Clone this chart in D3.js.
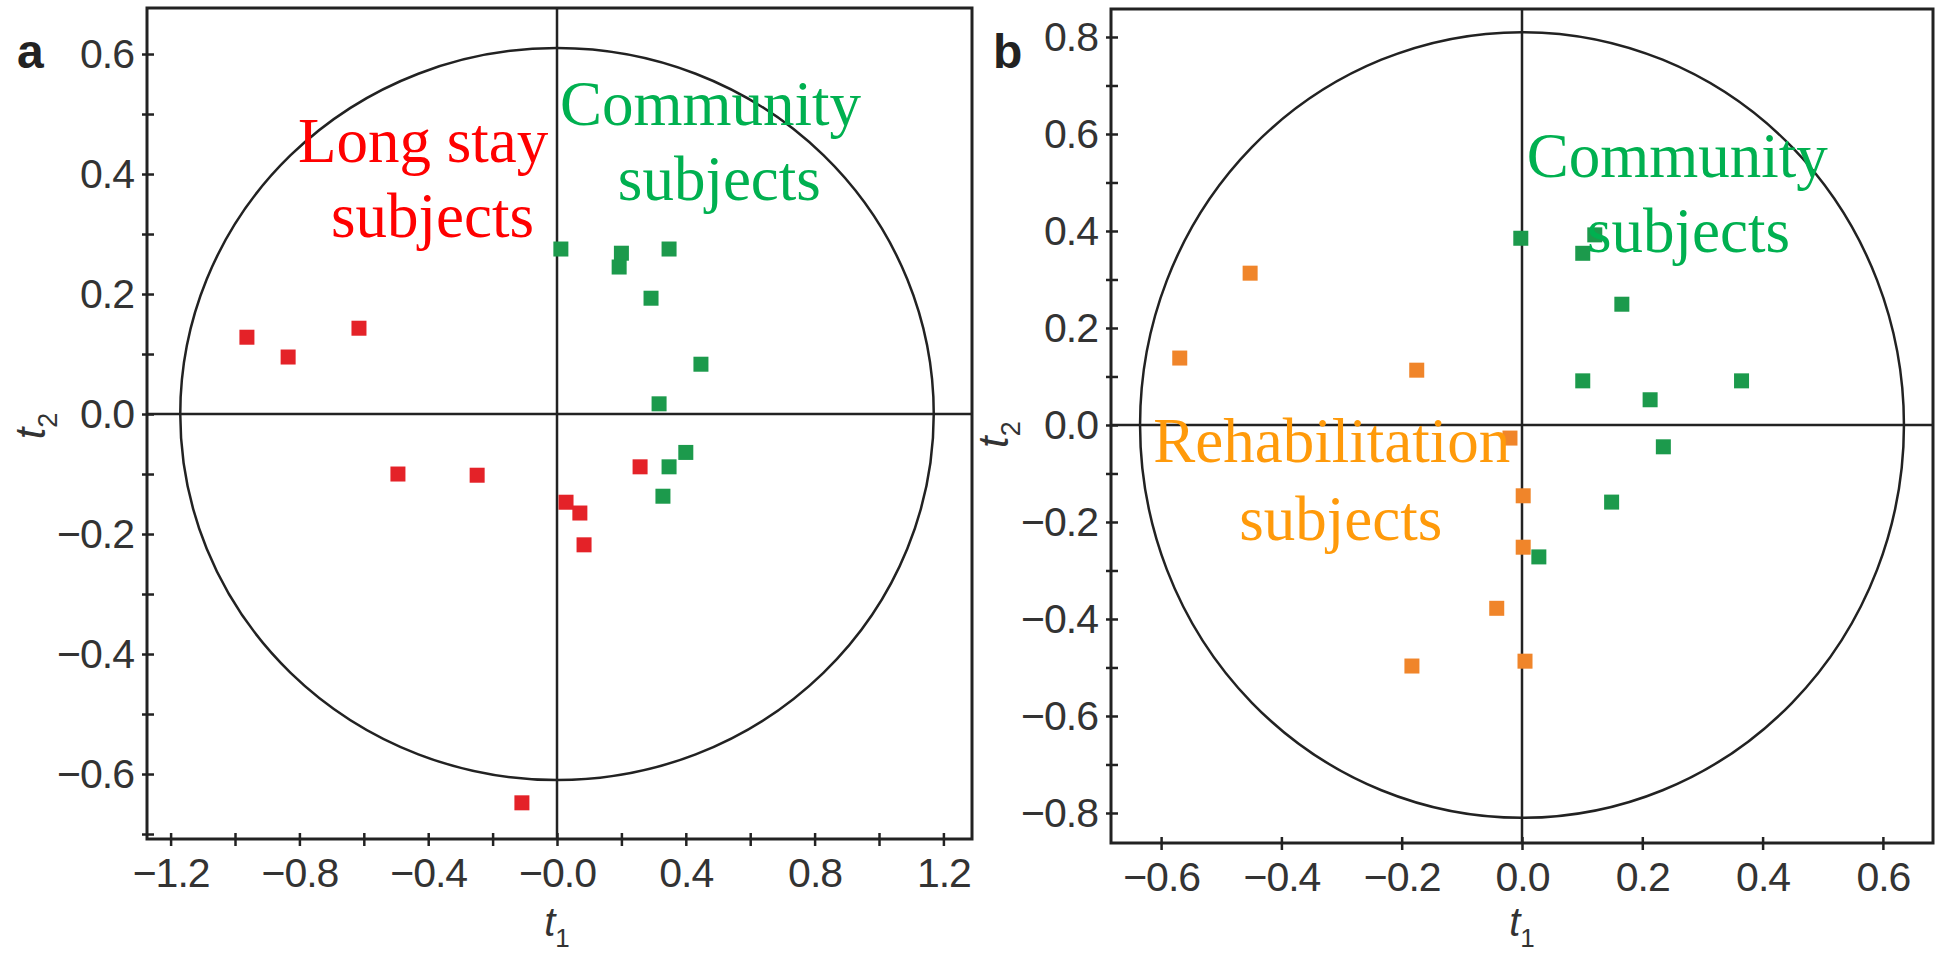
<!DOCTYPE html>
<html>
<head>
<meta charset="utf-8">
<script src="https://cdn.jsdelivr.net/npm/d3@7"></script>
<style>
  body { margin: 0; background: #fff; }
  .tickText { font-family: "Liberation Sans", Arial, sans-serif; font-size: 41px; fill: #333; letter-spacing: -1px; }
  .note { font-family: "Liberation Serif", "Times New Roman", serif; font-size: 63px; }
</style>
</head>
<body>
<script>
// panel a: long stay (red) vs community (green)
var aLongStayX = [-0.963, -0.835, -0.615, -0.494, -0.248, 0.028, 0.071, 0.084, -0.109, 0.258];
var aLongStayY = [0.128, 0.095, 0.143, -0.100, -0.102, -0.147, -0.165, -0.218, -0.648, -0.088];
var aCommunityX = [0.012, 0.200, 0.193, 0.348, 0.292, 0.447, 0.317, 0.400, 0.348, 0.329];
var aCommunityY = [0.275, 0.268, 0.245, 0.275, 0.193, 0.083, 0.017, -0.064, -0.088, -0.137];

// panel b: rehabilitation (orange) vs community (green)
var bRehabX = [-0.452, -0.569, -0.175, -0.183, -0.020, 0.002, 0.002, -0.042, 0.005];
var bRehabY = [0.313, 0.138, 0.113, -0.497, -0.027, -0.146, -0.252, -0.378, -0.487];
var bCommunityX = [-0.002, 0.101, 0.121, 0.166, 0.101, 0.365, 0.213, 0.235, 0.149, 0.028];
var bCommunityY = [0.385, 0.354, 0.392, 0.249, 0.091, 0.091, 0.052, -0.045, -0.159, -0.272];

// ticks
var aXTicks = [-1.2, -1.0, -0.8, -0.6, -0.4, -0.2, 0, 0.2, 0.4, 0.6, 0.8, 1.0, 1.2];
var aXLabelTicks = [-1.2, -0.8, -0.4, 0, 0.4, 0.8, 1.2];
var aXLabels = ["\u22121.2", "\u22120.8", "\u22120.4", "\u22120.0", "0.4", "0.8", "1.2"];
var aYTicks = [-0.7, -0.6, -0.5, -0.4, -0.3, -0.2, -0.1, 0, 0.1, 0.2, 0.3, 0.4, 0.5, 0.6];
var aYLabelTicks = [-0.6, -0.4, -0.2, 0, 0.2, 0.4, 0.6];
var aYLabels = ["\u22120.6", "\u22120.4", "\u22120.2", "0.0", "0.2", "0.4", "0.6"];

var bXTicks = [-0.6, -0.4, -0.2, 0, 0.2, 0.4, 0.6];
var bXLabelTicks = [-0.6, -0.4, -0.2, 0, 0.2, 0.4, 0.6];
var bXLabels = ["\u22120.6", "\u22120.4", "\u22120.2", "0.0", "0.2", "0.4", "0.6"];
var bYTicks = [-0.8, -0.7, -0.6, -0.5, -0.4, -0.3, -0.2, -0.1, 0, 0.1, 0.2, 0.3, 0.4, 0.5, 0.6, 0.7, 0.8];
var bYLabelTicks = [-0.8, -0.6, -0.4, -0.2, 0, 0.2, 0.4, 0.6, 0.8];
var bYLabels = ["\u22120.8", "\u22120.6", "\u22120.4", "\u22120.2", "0.0", "0.2", "0.4", "0.6", "0.8"];

// ellipse radii (data units) and group annotations
var aEllipse = [1.17, 0.61];
var bEllipse = [0.635, 0.81];
var aNotes = [
    {text: "Long stay", x: -0.804, y: 0.42, group: "red"},
    {text: "subjects", x: -0.702, y: 0.295, group: "red"},
    {text: "Community", x: 0.009, y: 0.482, group: "green"},
    {text: "subjects", x: 0.189, y: 0.357, group: "green"}
];
var bNotes = [
    {text: "Community", x: 0.008, y: 0.511, group: "green"},
    {text: "subjects", x: 0.108, y: 0.357, group: "green"},
    {text: "Rehabilitation", x: -0.613, y: -0.076, group: "orange"},
    {text: "subjects", x: -0.470, y: -0.237, group: "orange"}
];

var markColor = {red: "#e42228", green: "#1c9a4c", orange: "#f0852a"};
var noteColor = {red: "#ff0000", green: "#00b050", orange: "#ff9a0a"};

var svg = d3.select('body').append('svg')
    .attr('width', 1936)
    .attr('height', 954);

function labelFor(d, ticks, labels) {
    for (var i = 0; i < ticks.length; i++) {
        if (Math.abs(ticks[i] - d) < 1e-6) return labels[i];
    }
    return "";
}

function zip(xs, ys) {
    return xs.map(function (x, i) { return {x: x, y: ys[i]}; });
}

function drawPanel(p) {
    var x = d3.scaleLinear().domain(p.xDomain).range([p.left, p.right]);
    var y = d3.scaleLinear().domain(p.yDomain).range([p.bottom, p.top]);
    var g = svg.append('g');

    // frame
    g.append('rect')
        .attr('x', p.left).attr('y', p.top)
        .attr('width', p.right - p.left).attr('height', p.bottom - p.top)
        .attr('fill', 'none').attr('stroke', '#222').attr('stroke-width', 3);

    // zero lines
    g.append('line')
        .attr('x1', x(0)).attr('x2', x(0)).attr('y1', p.top).attr('y2', p.bottom)
        .attr('stroke', '#222').attr('stroke-width', 2.5);
    g.append('line')
        .attr('x1', p.left).attr('x2', p.right).attr('y1', y(0)).attr('y2', y(0))
        .attr('stroke', '#222').attr('stroke-width', 2.5);

    // confidence ellipse
    g.append('ellipse')
        .attr('cx', x(0)).attr('cy', y(0))
        .attr('rx', x(p.ellipse[0]) - x(0))
        .attr('ry', y(0) - y(p.ellipse[1]))
        .attr('fill', 'none').attr('stroke', '#222').attr('stroke-width', 2.5);

    var xAxis = d3.axisBottom(x)
        .tickValues(p.xTicks)
        .tickSizeInner(7).tickSizeOuter(0).tickPadding(12)
        .tickFormat(function (d) { return labelFor(d, p.xLabelTicks, p.xLabels); });
    var gx = g.append('g')
        .attr('transform', 'translate(0,' + p.bottom + ')')
        .call(xAxis);
    gx.selectAll('.tick line').attr('y1', -6).attr('stroke', '#222').attr('stroke-width', 2.5);

    var yAxis = d3.axisLeft(y)
        .tickValues(p.yTicks)
        .tickSizeInner(5).tickSizeOuter(0).tickPadding(8)
        .tickFormat(function (d) { return labelFor(d, p.yLabelTicks, p.yLabels); });
    var gy = g.append('g')
        .attr('transform', 'translate(' + p.left + ',0)')
        .call(yAxis);
    gy.selectAll('.tick line').attr('x1', 7).attr('stroke', '#222').attr('stroke-width', 2.5);

    [gx, gy].forEach(function (ax) {
        ax.select('.domain').remove();
        ax.selectAll('.tick text').attr('class', 'tickText').attr('fill', null).attr('font-size', null).attr('font-family', null);
        ax.attr('font-size', null).attr('font-family', null);
    });

    // points
    p.series.forEach(function (s) {
        g.selectAll(null)
            .data(zip(s.xs, s.ys))
            .enter()
            .append('rect')
            .attr('x', function (d) { return x(d.x) - 7.5; })
            .attr('y', function (d) { return y(d.y) - 7.5; })
            .attr('width', 15).attr('height', 15)
            .attr('fill', markColor[s.group]);
    });

    // annotations
    g.selectAll('.note')
        .data(p.notes)
        .enter()
        .append('text')
        .attr('class', 'note')
        .attr('x', function (d) { return x(d.x); })
        .attr('y', function (d) { return y(d.y); })
        .attr('fill', function (d) { return noteColor[d.group]; })
        .text(function (d) { return d.text; });

    // panel letter
    g.append('text')
        .attr('x', p.letterX).attr('y', 68)
        .style('font-family', '"Liberation Sans", Arial, sans-serif')
        .style('font-weight', 'bold').style('font-size', '48px').style('fill', '#222')
        .text(p.letter);

    // axis titles
    var t1 = g.append('text')
        .attr('x', x(0)).attr('y', 936)
        .attr('text-anchor', 'middle')
        .style('font-family', '"Liberation Sans", Arial, sans-serif')
        .style('font-style', 'italic').style('font-size', '40px').style('fill', '#333');
    t1.append('tspan').text('t');
    t1.append('tspan').attr('dy', 11).style('font-size', '26px').style('font-style', 'normal').text('1');

    var t2 = g.append('text')
        .attr('transform', 'translate(' + p.t2X + ',' + y(-0.02) + ') rotate(-90)')
        .attr('text-anchor', 'middle')
        .style('font-family', '"Liberation Sans", Arial, sans-serif')
        .style('font-style', 'italic').style('font-size', '42px').style('fill', '#333');
    t2.append('tspan').text('t');
    t2.append('tspan').attr('dy', 12).style('font-size', '27px').style('font-style', 'normal').text('2');
}

drawPanel({
    left: 147, right: 972, top: 8, bottom: 839,
    xDomain: [-1.2733, 1.2888], yDomain: [-0.7083, 0.6767],
    xTicks: aXTicks, xLabelTicks: aXLabelTicks, xLabels: aXLabels,
    yTicks: aYTicks, yLabelTicks: aYLabelTicks, yLabels: aYLabels,
    ellipse: aEllipse,
    series: [
        {xs: aLongStayX, ys: aLongStayY, group: "red"},
        {xs: aCommunityX, ys: aCommunityY, group: "green"}
    ],
    notes: aNotes,
    letter: "a", letterX: 17, t2X: 45
});

drawPanel({
    left: 1111, right: 1933, top: 9, bottom: 843,
    xDomain: [-0.6833, 0.6833], yDomain: [-0.8619, 0.8577],
    xTicks: bXTicks, xLabelTicks: bXLabelTicks, xLabels: bXLabels,
    yTicks: bYTicks, yLabelTicks: bYLabelTicks, yLabels: bYLabels,
    ellipse: bEllipse,
    series: [
        {xs: bRehabX, ys: bRehabY, group: "orange"},
        {xs: bCommunityX, ys: bCommunityY, group: "green"}
    ],
    notes: bNotes,
    letter: "b", letterX: 993, t2X: 1008
});
</script>
</body>
</html>
